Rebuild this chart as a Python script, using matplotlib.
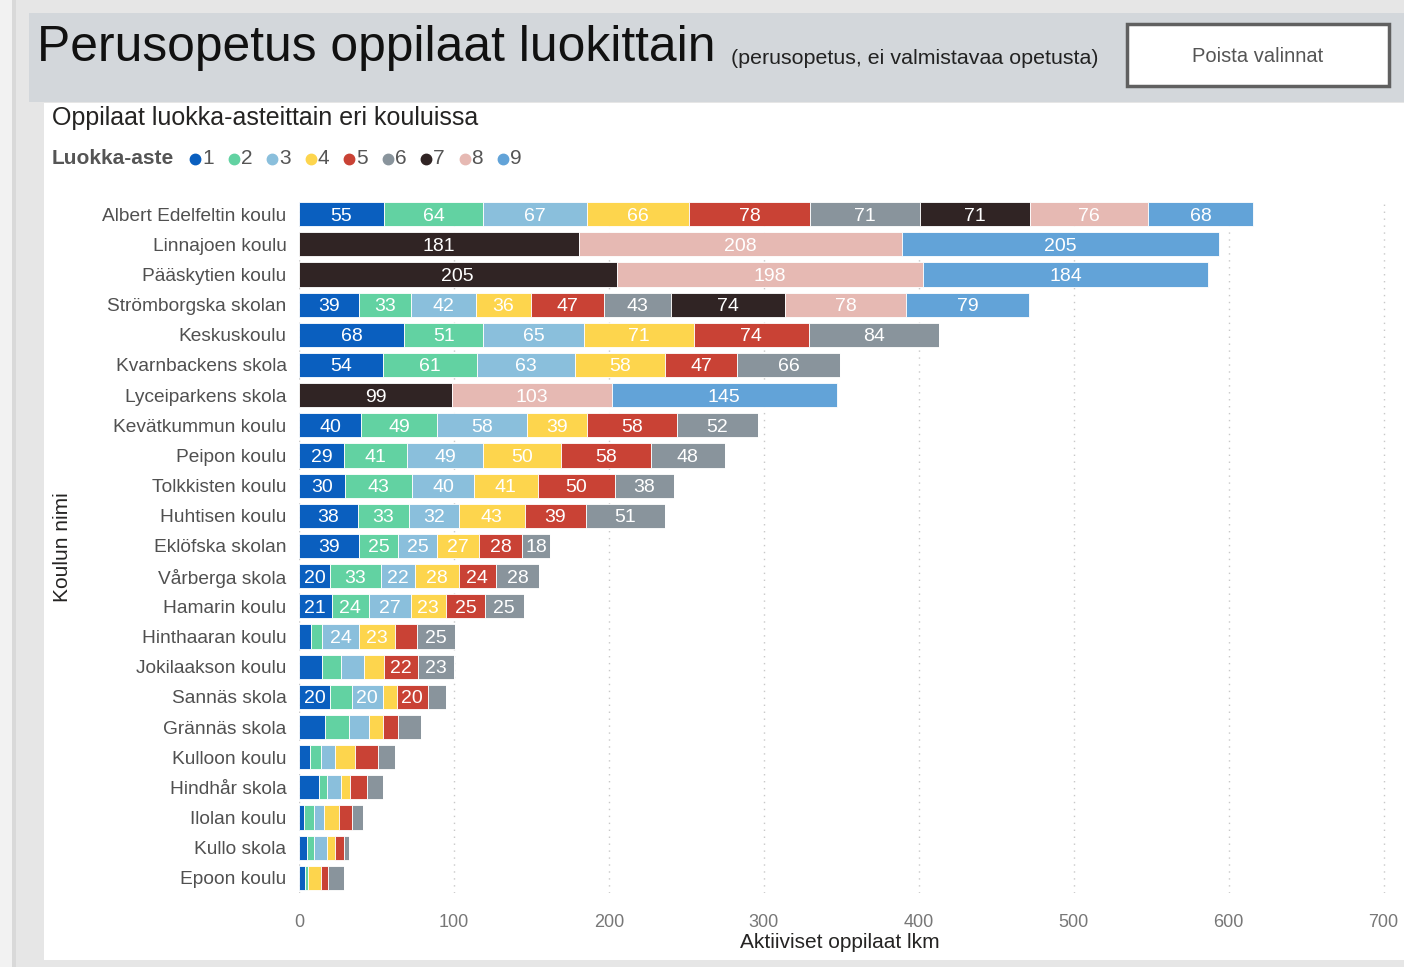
import numpy as np
import matplotlib
matplotlib.use("Agg")
import matplotlib.pyplot as plt
from matplotlib.patches import Rectangle
from matplotlib.lines import Line2D

plt.rcParams['font.family'] = ['Liberation Sans', 'DejaVu Sans']

# koulut ylhaalta alas
schools = ["Albert Edelfeltin koulu", "Linnajoen koulu", "Pääskytien koulu", "Strömborgska skolan",
           "Keskuskoulu", "Kvarnbackens skola", "Lyceiparkens skola", "Kevätkummun koulu",
           "Peipon koulu", "Tolkkisten koulu", "Huhtisen koulu", "Eklöfska skolan",
           "Vårberga skola", "Hamarin koulu", "Hinthaaran koulu", "Jokilaakson koulu",
           "Sannäs skola", "Grännäs skola", "Kulloon koulu", "Hindhår skola",
           "Ilolan koulu", "Kullo skola", "Epoon koulu"]

grades = ["1", "2", "3", "4", "5", "6", "7", "8", "9"]
colors = ["#0a5fbf", "#62d2a2", "#8abfdc", "#fdd54d", "#c94235", "#89949c", "#302424", "#e6b9b3", "#62a3d8"]

# oppilasmaarat luokka-asteittain (sama jarjestys kuin schools)
g1 = [55, 0, 0, 39, 68, 54, 0, 40, 29, 30, 38, 39, 20, 21, 8, 15, 20, 17, 7, 13, 3, 5, 4]
g2 = [64, 0, 0, 33, 51, 61, 0, 49, 41, 43, 33, 25, 33, 24, 7, 12, 14, 15, 7, 5, 7, 5, 2]
g3 = [67, 0, 0, 42, 65, 63, 0, 58, 49, 40, 32, 25, 22, 27, 24, 15, 20, 13, 9, 9, 6, 8, 0]
g4 = [66, 0, 0, 36, 71, 58, 0, 39, 50, 41, 43, 27, 28, 23, 23, 13, 9, 9, 13, 6, 10, 5, 8]
g5 = [78, 0, 0, 47, 74, 47, 0, 58, 58, 50, 39, 28, 24, 25, 14, 22, 20, 10, 15, 11, 8, 6, 5]
g6 = [71, 0, 0, 43, 84, 66, 0, 52, 48, 38, 51, 18, 28, 25, 25, 23, 12, 15, 11, 10, 7, 3, 10]
g7 = [71, 181, 205, 74, 0, 0, 99, 0, 0, 0, 0, 0, 0, 0, 0, 0, 0, 0, 0, 0, 0, 0, 0]
g8 = [76, 208, 198, 78, 0, 0, 103, 0, 0, 0, 0, 0, 0, 0, 0, 0, 0, 0, 0, 0, 0, 0, 0]
g9 = [68, 205, 184, 79, 0, 0, 145, 0, 0, 0, 0, 0, 0, 0, 0, 0, 0, 0, 0, 0, 0, 0, 0]
series = [g1, g2, g3, g4, g5, g6, g7, g8, g9]

W, H = 1404, 967
fig = plt.figure(figsize=(W / 100, H / 100), dpi=100)
fig.patch.set_facecolor("#e6e6e6")

def px_rect(x0, y0, x1, y1, z=-5, **kw):
    # suorakulmio pikseleissa (y ylhaalta)
    fig.add_artist(Rectangle((x0 / W, 1 - y1 / H), (x1 - x0) / W, (y1 - y0) / H,
                             transform=fig.transFigure, zorder=z, **kw))

px_rect(0, 0, 12, H, facecolor="#f2f2f2", edgecolor="none")
px_rect(12, 0, 16, H, facecolor="#d9d9d9", edgecolor="none")
px_rect(29, 13, W, 102, facecolor="#d3d7db", edgecolor="none")
px_rect(44, 103, W, 960, facecolor="white", edgecolor="none")
px_rect(1127, 24, 1389, 86, facecolor="white", edgecolor="#606060", linewidth=2.5)

fig.text(37 / W, 1 - 48 / H, "Perusopetus oppilaat luokittain", fontsize=35.8, color="#111111", va="center")
fig.text(731 / W, 1 - 58 / H, "(perusopetus, ei valmistavaa opetusta)", fontsize=15.4, color="#222222", va="center")
fig.text(1258 / W, 1 - 56 / H, "Poista valinnat", fontsize=14.5, color="#555555", va="center", ha="center")
fig.text(52 / W, 1 - 118 / H, "Oppilaat luokka-asteittain eri kouluissa", fontsize=18, color="#252423", va="center")

# selite
fig.text(52 / W, 1 - 159 / H, "Luokka-aste", fontsize=15, fontweight="bold", color="#555555", va="center")
for i, (lab, c) in enumerate(zip(grades, colors)):
    x = 195 + i * 38.5
    fig.add_artist(Line2D([x / W], [1 - 159 / H], marker="o", markersize=7.5, color=c,
                          linestyle="", transform=fig.transFigure))
    fig.text((x + 7) / W, 1 - 159 / H, lab, fontsize=15, color="#555555", va="center")

ax = fig.add_axes([299 / W, 1 - 893 / H, 1100 / W, 694 / H])
ax.set_facecolor("none")
y = np.arange(len(schools))
left = np.zeros(len(schools))
for vals, c in zip(series, colors):
    vals = np.array(vals, dtype=float)
    ax.barh(y, vals, left=left, height=0.8, color=c, edgecolor="white", linewidth=0.6, zorder=3)
    for yi, (l, v) in enumerate(zip(left, vals)):
        if v >= 18:
            ax.text(l + v / 2, yi, f"{int(v)}", ha="center", va="center_baseline", color="white",
                    fontsize=14, zorder=4)
    left += vals

ax.set_xlim(0, 710)
ax.set_ylim(len(schools) - 0.5, -0.5)
ax.set_yticks(y)
ax.set_yticklabels(schools, fontsize=13.8, color="#505050", va="center_baseline")
ax.set_xticks(np.arange(0, 701, 100))
ax.tick_params(axis="x", labelsize=13, labelcolor="#777777", length=0, pad=15)
ax.tick_params(axis="y", length=0, pad=9)
ax.grid(axis="x", linestyle=(0, (1, 4)), color="#c8c8c8", linewidth=1, zorder=0)
for s in ax.spines.values():
    s.set_visible(False)

fig.text(840 / W, 1 - 942 / H, "Aktiiviset oppilaat lkm", fontsize=15, color="#252423", ha="center", va="center")
fig.text(62 / W, 1 - 547 / H, "Koulun nimi", fontsize=15, color="#252423", ha="center", va="center", rotation=90)

fig.savefig("out.png", dpi=100)
